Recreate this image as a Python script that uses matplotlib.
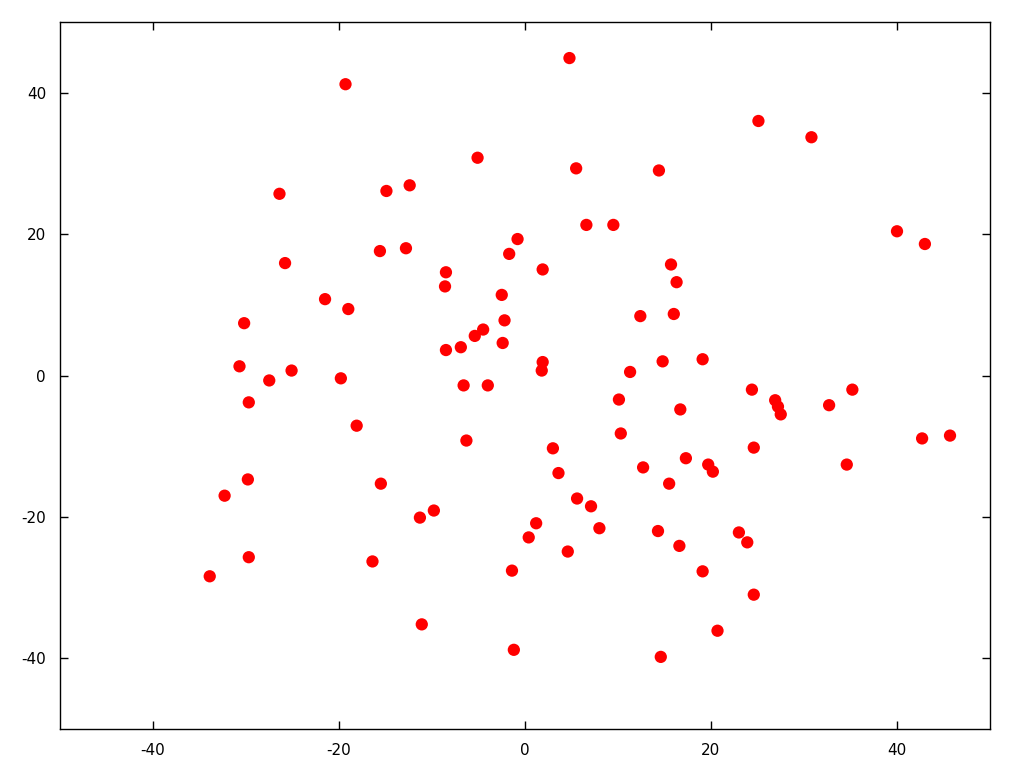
import matplotlib
matplotlib.use("Agg")
import matplotlib.pyplot as plt

plt.rcParams['axes.unicode_minus'] = False

x_vals = [4.78, -19.3, 25.1, 30.8, -5.1, 5.5, 14.4, -26.4, -12.4, -14.9,
          6.6, 9.5, 40.0, 43.0, -0.8, -1.7, -15.6, -12.8, -25.8, 15.7,
          1.9, -8.5, 16.3, -8.6, -21.5, -2.5, -19.0, 16.0, 12.4, -2.2,
          -30.2, -4.5, -5.4, -2.4, -6.9, -8.5, 1.9, 14.8, 19.1, -30.7,
          -25.1, 1.8, 11.3, -27.5, -19.8, -6.6, -4.0, 24.4, 35.2, -29.7,
          10.1, 26.9, 27.2, 27.5, 32.7, 16.7, -18.1, 10.3, 42.7, 45.7,
          -6.3, 3.0, 24.6, 17.3, 19.7, 20.2, 12.7, 34.6, 3.6, -29.8,
          -15.5, 15.5, -32.3, 5.6, 7.1, -9.8, -11.3, 1.2, 8.0, 14.3,
          23.0, 0.4, 23.9, 16.6, 4.6, -29.7, -16.4, -1.4, 19.1, -33.9,
          24.6, -11.1, 20.7, -1.2, 14.6]
y_vals = [44.9, 41.2, 36.0, 33.7, 30.8, 29.3, 29.0, 25.7, 26.9, 26.1,
          21.3, 21.3, 20.4, 18.6, 19.3, 17.2, 17.6, 18.0, 15.9, 15.7,
          15.0, 14.6, 13.2, 12.6, 10.8, 11.4, 9.4, 8.7, 8.4, 7.8,
          7.4, 6.5, 5.6, 4.6, 4.0, 3.6, 1.9, 2.0, 2.3, 1.3,
          0.7, 0.7, 0.5, -0.7, -0.4, -1.4, -1.4, -2.0, -2.0, -3.8,
          -3.4, -3.5, -4.4, -5.5, -4.2, -4.8, -7.1, -8.2, -8.9, -8.5,
          -9.2, -10.3, -10.2, -11.7, -12.6, -13.6, -13.0, -12.6, -13.8, -14.7,
          -15.3, -15.3, -17.0, -17.4, -18.5, -19.1, -20.1, -20.9, -21.6, -22.0,
          -22.2, -22.9, -23.6, -24.1, -24.9, -25.7, -26.3, -27.6, -27.7, -28.4,
          -31.0, -35.2, -36.1, -38.8, -39.8]

x_ticks = [-40, -20, 0, 20, 40]
y_ticks = [-40, -20, 0, 20, 40]

fig = plt.figure(figsize=(10.24, 7.68), dpi=100)
ax = fig.add_axes([60/1024, 39/768, 930/1024, 707/768])
ax.scatter(x_vals, y_vals, s=78, c='#ff0000', edgecolors='none', zorder=3)
ax.set_xlim(-50, 50)
ax.set_ylim(-50, 50)
ax.set_xticks(x_ticks)
ax.set_yticks(y_ticks)
ax.tick_params(direction='in', length=6, width=1, top=True, right=True,
               labelsize=11, pad=10, colors='black')
for s in ax.spines.values():
    s.set_linewidth(1)
fig.savefig("out.png", dpi=100)
